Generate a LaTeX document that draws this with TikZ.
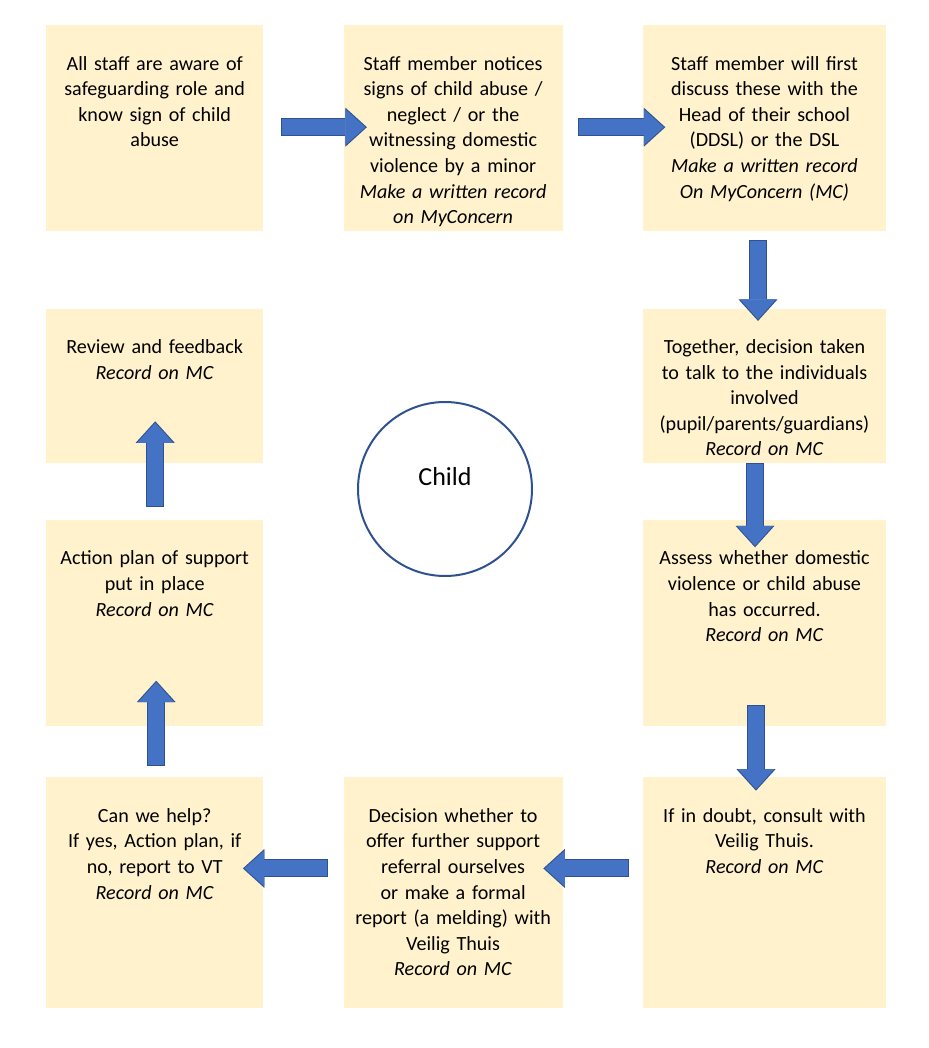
\documentclass[tikz,border=0pt]{standalone}
\usepackage{fontspec}
\setmainfont{Carlito}
\definecolor{boxfill}{RGB}{255,242,204}
\definecolor{arrowfill}{RGB}{68,114,196}
\definecolor{arrowedge}{RGB}{47,82,143}
\usetikzlibrary{arrows.meta,positioning}

\tikzset{
  stepbox/.style={fill=boxfill, inner sep=0pt},
  steptext/.style={anchor=north, inner sep=0pt, yshift=-31pt, text width=240pt, align=center, font=\fontsize{20.1}{25.6}\selectfont},
  flowarrow/.style={draw=arrowfill, line width=16pt, -{Triangle[width=36pt,length=20pt,line width=0pt]},
    preaction={draw=arrowedge, line width=18pt, shorten <=-1pt, shorten >=-1.5pt, -{Triangle[width=39pt,length=21.5pt,line width=0pt]}}},
  childcircle/.style={circle, draw=arrowedge, line width=2pt, minimum size=174pt, text height=18pt, text depth=25pt, font=\fontsize{26}{30}\selectfont}
}

\begin{document}
\begin{tikzpicture}[x=1pt, y=-1pt]
  \useasboundingbox (0,0) rectangle (928,1048);
  % top row
  \node[stepbox, anchor=north west, minimum width=217pt, minimum height=206pt, label={[steptext]north:{All staff are aware of\\safeguarding role and\\know sign of child\\abuse}}] (aware) at (46,25) {};
  \node[stepbox, minimum width=219pt, minimum height=206pt, right=80pt of aware, label={[steptext]north:{Staff member notices\\signs of child abuse /\\neglect / or the\\witnessing domestic\\violence by a minor\\\textit{Make a written record}\\\textit{on MyConcern}}}] (notice) {};
  \node[stepbox, minimum width=243pt, minimum height=206pt, right=80pt of notice, label={[steptext]north:{Staff member will first\\discuss these with the\\Head of their school\\(DDSL) or the DSL\\\textit{Make a written record}\\\textit{On MyConcern (MC)}}}] (discuss) {};
  % right column
  \node[stepbox, minimum width=243pt, minimum height=154pt, below=77pt of discuss, label={[steptext]north:{Together, decision taken\\to talk to the individuals\\involved\\(pupil/parents/guardians)\\\textit{Record on MC}}}] (together) {};
  \node[stepbox, minimum width=243pt, minimum height=206pt, below=57pt of together, label={[steptext]north:{Assess whether domestic\\violence or child abuse\\has occurred.\\\textit{Record on MC}}}] (assess) {};
  \node[stepbox, minimum width=243pt, minimum height=231pt, below=51pt of assess, label={[steptext]north:{If in doubt, consult with\\Veilig Thuis.\\\textit{Record on MC}}}] (doubt) {};
  % bottom row
  \node[stepbox, minimum width=219pt, minimum height=231pt, left=80pt of doubt, label={[steptext]north:{Decision whether to\\offer further support\\referral ourselves\\or make a formal\\report (a melding) with\\Veilig Thuis\\\textit{Record on MC}}}] (decision) {};
  \node[stepbox, minimum width=217pt, minimum height=231pt, left=80pt of decision, label={[steptext]north:{Can we help?\\If yes, Action plan, if\\no, report to VT\\\textit{Record on MC}}}] (helpq) {};
  % left column
  \node[stepbox, minimum width=217pt, minimum height=206pt, above=51pt of helpq, label={[steptext]north:{Action plan of support\\put in place\\\textit{Record on MC}}}] (action) {};
  \node[stepbox, minimum width=217pt, minimum height=154pt, above=57pt of action, label={[steptext]north:{Review and feedback\\\textit{Record on MC}}}] (review) {};

  \node[childcircle] (child) at (445,489) {Child};

  % block arrows
  \draw[flowarrow] ([xshift=19pt,yshift=1pt]aware.east) -- ([xshift=22pt,yshift=1pt]notice.west);
  \draw[flowarrow] ([xshift=16pt,yshift=1pt]notice.east) -- ([xshift=21pt,yshift=1pt]discuss.west);
  \draw[flowarrow] ([xshift=-6.5pt,yshift=-10pt]discuss.south) -- ([xshift=-6.5pt,yshift=-11pt]together.north);
  \draw[flowarrow] ([xshift=-9.5pt,yshift=-1pt]together.south) -- ([xshift=-9.5pt,yshift=-26pt]assess.north);
  \draw[flowarrow] ([xshift=-8.5pt,yshift=20pt]assess.south) -- ([xshift=-8.5pt,yshift=-12pt]doubt.north);
  \draw[flowarrow] ([xshift=-15pt,yshift=24.5pt]doubt.west) -- ([xshift=-18pt,yshift=24.5pt]decision.east);
  \draw[flowarrow] ([xshift=-16pt,yshift=24.5pt]decision.west) -- ([xshift=-19pt,yshift=24.5pt]helpq.east);
  \draw[flowarrow] ([xshift=1.5pt,yshift=12pt]helpq.north) -- ([xshift=1.5pt,yshift=44pt]action.south);
  \draw[flowarrow] ([xshift=0.5pt,yshift=14pt]action.north) -- ([xshift=0.5pt,yshift=40pt]review.south);
\end{tikzpicture}
\end{document}
